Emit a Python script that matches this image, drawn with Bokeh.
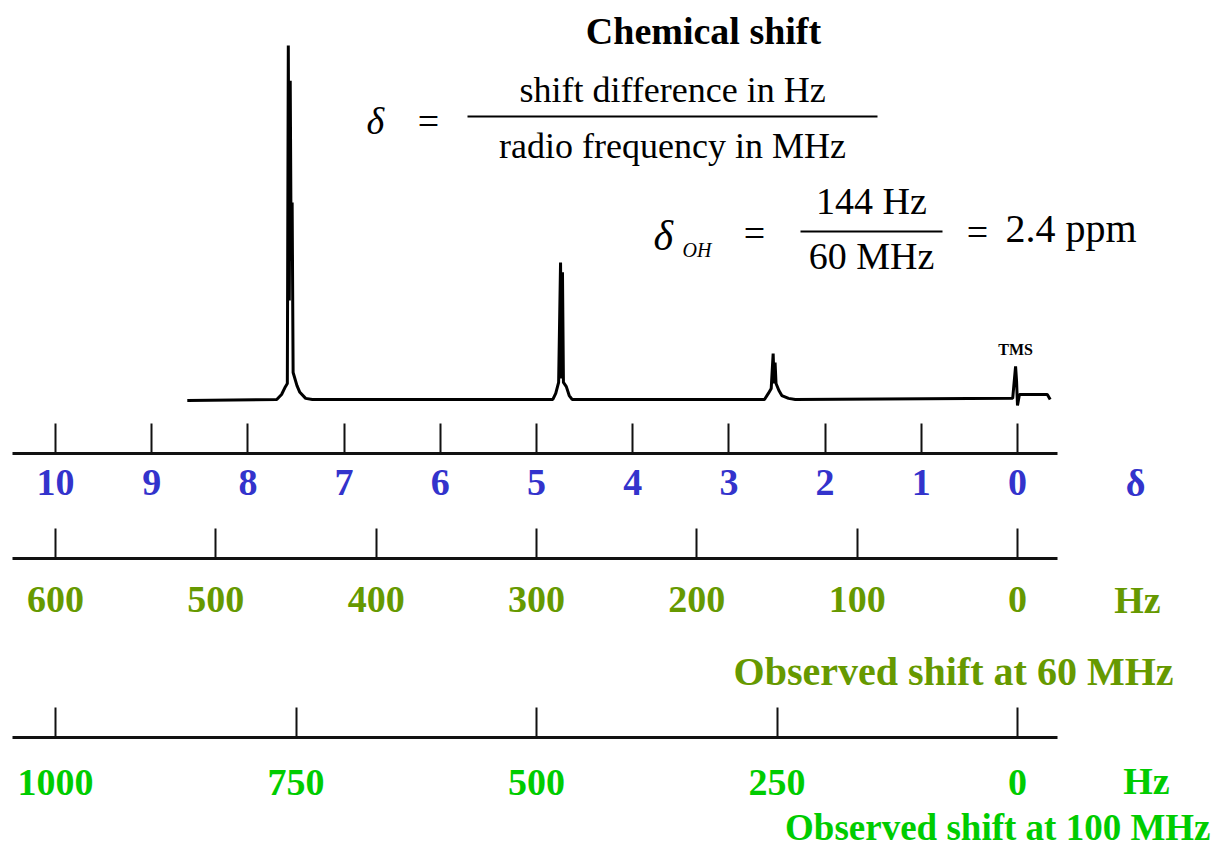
from bokeh.plotting import figure
from bokeh.models import Range1d, LinearAxis, FixedTicker, Label
from bokeh.embed import file_html
from bokeh.resources import INLINE

# ---------------- data ----------------
# spectrum trace: chemical shift (ppm) and intensity (tallest line = 100)
spectrum_ppm = [8.63, 7.70, 7.65, 7.61, 7.59, 7.58, 7.57, 7.56, 7.55, 7.54, 7.53, 7.49, 7.46, 7.40, 7.33,
                4.83, 4.80, 4.77, 4.75, 4.74, 4.73, 4.72, 4.69, 4.66, 4.63,
                2.63, 2.59, 2.56, 2.54, 2.53, 2.52, 2.51, 2.48, 2.45, 2.38, 2.31,
                0.05, 0.02, 0.01, 0.00, -0.02, -0.31, -0.34]
spectrum_intensity = [0, 0.3, 1.7, 3.9, 4.8, 100, 28.2, 90.1, 39.4, 55.8, 7.9, 4.2, 2.3, 0.6, 0.3,
                      0.3, 2.0, 5.1, 38.9, 6.2, 36.1, 5.1, 3.9, 1.4, 0.3,
                      0.3, 2.0, 3.4, 13.2, 4.8, 10.7, 4.8, 2.8, 1.4, 0.6, 0.3,
                      0.6, 9.6, 5.6, -1.4, 1.7, 1.7, 0.3]
reference_label = ["TMS"]
reference_ppm = [0.02]

delta_ticks = [0, 1, 2, 3, 4, 5, 6, 7, 8, 9, 10]
hz60_ticks = [0, 100, 200, 300, 400, 500, 600]
hz100_ticks = [0, 250, 500, 750, 1000]
field_mhz = [60, 100]

title_text = "Chemical shift"
formula_num = "shift difference in Hz"
formula_den = "radio frequency in MHz"
example_num = "144 Hz"
example_den = "60 MHz"
example_result = "2.4 ppm"
axis_units = ["δ", "Hz", "Hz"]
axis_captions = ["Observed shift at 60 MHz", "Observed shift at 100 MHz"]

# ---------------- layout helpers (picture pixels -> data units) ----------------
W, H = 1213, 852
ZERO_X = 1017.0      # picture x of 0 ppm
PX_PPM = 96.2        # pixels per ppm
BASE_Y = 400.0       # picture y of the spectrum baseline
PX_UNIT = 3.55       # pixels per intensity unit


def px(pic_x):
    return (ZERO_X - pic_x) / PX_PPM


def py(pic_y):
    return (BASE_Y - pic_y) / PX_UNIT


p = figure(width=W, height=H, output_backend="svg", toolbar_location=None,
           x_range=Range1d(px(0), px(W)), y_range=Range1d(py(H), py(0)),
           x_axis_location=None, y_axis_location=None, min_border=0)
p.outline_line_color = None
p.background_fill_color = "white"
p.border_fill_color = "white"
p.grid.grid_line_color = None

p.extra_x_ranges = {
    "hz60": Range1d(px(0) * field_mhz[0], px(W) * field_mhz[0]),
    "hz100": Range1d(px(0) * field_mhz[1], px(W) * field_mhz[1]),
}

# spectrum
p.line(spectrum_ppm, spectrum_intensity, line_color="black", line_width=3)

SERIF = "Liberation Serif"


def add_text(text, x_pic, cap_top, size, color="black", style="normal",
             align="left", font=SERIF, k=0.22):
    # Label with 'top' baseline: glyph cap top lies ~k*size below the anchor
    p.add_layout(Label(x=px(x_pic), y=py(cap_top - k * size), text=text,
                       text_font=font, text_font_size=f"{size}px",
                       text_font_style=style, text_color=color,
                       text_align=align, text_baseline="top"))


# TMS label
p.add_layout(Label(x=reference_ppm[0], y=py(340), text=reference_label[0],
                   text_font="Liberation Sans Narrow", text_font_size="16px",
                   text_font_style="bold", text_color="black", text_align="center",
                   text_baseline="top"))

# axes
BLUE = "#3333cc"
OLIVE = "#669900"
GREEN = "#00cc00"
LINE_L, LINE_R = 12, 1057
axis_specs = [
    ("default", delta_ticks, 452.5, BLUE, 17, 1),
    ("hz60", hz60_ticks, 557.5, OLIVE, 29, field_mhz[0]),
    ("hz100", hz100_ticks, 737.0, GREEN, 32, field_mhz[1]),
]
for name, ticks, loc, color, standoff, scale in axis_specs:
    ax = LinearAxis(x_range_name=name, ticker=FixedTicker(ticks=ticks),
                    fixed_location=py(loc),
                    bounds=(px(LINE_R) * scale, px(LINE_L) * scale),
                    axis_line_color="#111111", axis_line_width=3,
                    major_tick_line_color="#111111", major_tick_line_width=2,
                    major_tick_in=30, major_tick_out=0,
                    minor_tick_line_color=None,
                    major_label_text_color=color, major_label_text_font=SERIF,
                    major_label_text_font_style="bold",
                    major_label_text_font_size="38px",
                    major_label_standoff=standoff)
    p.add_layout(ax, "below")

# unit labels next to the axes
add_text(axis_units[0], 1135, 470, 38, BLUE, "bold", "center")
add_text(axis_units[1], 1137, 587, 38, OLIVE, "bold", "center")
add_text(axis_units[2], 1146, 768, 38, GREEN, "bold", "center")
add_text(axis_captions[0], 1173, 657, 40, OLIVE, "bold", "right")
add_text(axis_captions[1], 1210, 815, 37, GREEN, "bold", "right")

# title and formulas
add_text(title_text, 703, 18, 38, style="bold", align="center")
add_text("δ", 366, 108, 38, style="italic")
add_text("=", 428, 108, 38, align="center")
add_text(formula_num, 672, 77, 36, align="center")
add_text(formula_den, 672, 133, 36, align="center")
p.segment(x0=[px(467)], y0=[py(116)], x1=[px(877)], y1=[py(116)],
          line_color="black", line_width=2)

add_text("δ", 653, 222, 42, style="italic")
add_text("OH", 682, 243, 20, style="italic")
add_text("=", 754, 220, 38, align="center")
add_text(example_num, 871, 188, 38, align="center")
add_text(example_den, 871, 243, 38, align="center")
p.segment(x0=[px(800)], y0=[py(231)], x1=[px(942)], y1=[py(231)],
          line_color="black", line_width=2)
add_text("=", 977, 219, 38, align="center")
add_text(example_result, 1005, 214, 40)

open("out.html", "w").write(file_html(p, INLINE))
